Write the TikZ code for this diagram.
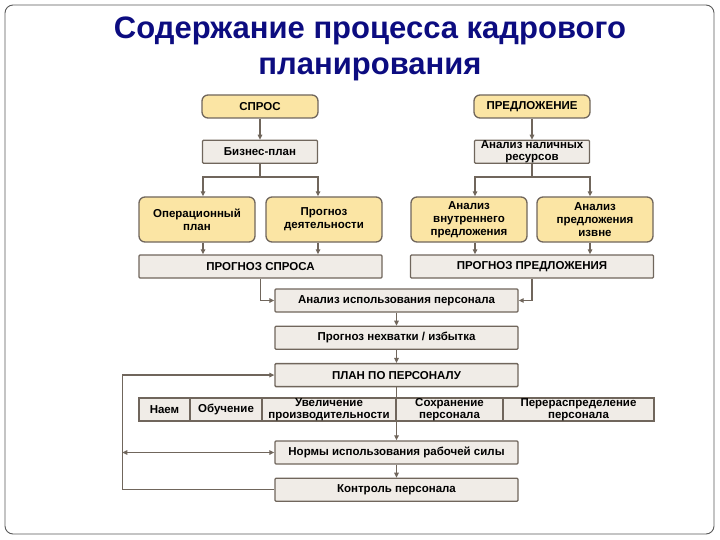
\documentclass[tikz,border=0pt]{standalone}
\usepackage{fontspec}
\setmainfont{Liberation Sans}
\usetikzlibrary{arrows.meta, positioning, calc}
\definecolor{titleblue}{RGB}{12,12,128}
\definecolor{planyellow}{RGB}{251,229,164}
\definecolor{plangray}{RGB}{240,236,231}
\definecolor{planline}{RGB}{112,102,92}
\tikzset{
    yellowbox/.style={rectangle, draw=planline, fill=planyellow, line width=1.3pt, rounded corners=6pt, minimum width=116pt, minimum height=23pt, inner sep=0pt, align=center, font=\bfseries\fontsize{11.5}{13}\selectfont},
    tallbox/.style={yellowbox, minimum height=45pt},
    graybox/.style={rectangle, draw=planline, fill=plangray, line width=1.3pt, rounded corners=1pt, minimum width=115pt, minimum height=23pt, inner sep=0pt, align=center, font=\bfseries\fontsize{11.5}{11.5}\selectfont},
    widebox/.style={graybox, minimum width=243pt},
    cell/.style={graybox, rounded corners=0pt, minimum height=23pt, outer sep=0pt},
    arrow/.style={-{Triangle[length=5pt,width=4.5pt]}, line width=1.3pt, draw=planline},
    twoarrow/.style={{Triangle[length=5pt,width=4.5pt]}-{Triangle[length=5pt,width=4.5pt]}, line width=1.3pt, draw=planline},
}
\begin{document}
\begin{tikzpicture}[x=1pt, y=-1pt]
    \useasboundingbox (0,0) rectangle (720,540);
    \draw[black!65, line width=0.9pt, rounded corners=8pt] (5,5) rectangle (714,534);

    % Title
    \node[text=titleblue, font=\bfseries\fontsize{31}{36}\selectfont, align=center] (title) at (370,49) {Содержание процесса кадрового\\планирования};

    % Demand side
    \node[yellowbox] (demand) at (260,106.5) {СПРОС};
    \node[graybox, below=21pt of demand] (biz) {Бизнес-план};
    \node[tallbox] (oper) at (197,219.5) {Операционный\\план};
    \node[tallbox] (activ) at (324,219.5) {Прогноз\\деятельности};
    \node[widebox] (demfc) at (260.5,266.5) {ПРОГНОЗ СПРОСА};

    % Supply side
    \node[yellowbox] (supply) at (532,106.5) {ПРЕДЛОЖЕНИЕ};
    \node[graybox, below=21pt of supply] (avail) {Анализ наличных\\ресурсов};
    \node[tallbox] (inner) at (469,219.5) {Анализ\\внутреннего\\предложения};
    \node[tallbox] (outer) at (595,219.5) {Анализ\\предложения\\извне};
    \node[widebox] (supfc) at (532,266.5) {ПРОГНОЗ ПРЕДЛОЖЕНИЯ};

    % Central chain
    \node[widebox] (use) at (396.5,300.5) {Анализ использования персонала};
    \node[widebox, below=13pt of use] (short) {Прогноз нехватки / избытка};
    \node[widebox, below=13pt of short] (plan) {ПЛАН ПО ПЕРСОНАЛУ};
    \node[widebox] (norm) at (396.5,452.5) {Нормы использования рабочей силы};
    \node[widebox, below=13pt of norm] (ctrl) {Контроль персонала};

    % Measures row
    \node[cell, minimum width=51pt, anchor=west] (hire) at (139,409.5) {Наем};
    \node[cell, minimum width=72pt, right=0pt of hire] (train) {Обучение};
    \node[cell, minimum width=134pt, right=0pt of train] (prod) {Увеличение\\производительности};
    \node[cell, minimum width=107pt, right=0pt of prod] (keep) {Сохранение\\персонала};
    \node[cell, minimum width=151pt, right=0pt of keep] (move) {Перераспределение\\персонала};

    % Connectors
    \draw[arrow] (demand) -- (biz);
    \draw[arrow] (biz.south) -- ++(0,13) -| ([xshift=6pt]oper.north);
    \draw[arrow] (biz.south) -- ++(0,13) -| ([xshift=-6pt]activ.north);
    \draw[arrow] ([xshift=6pt]oper.south) -- ([xshift=6pt]oper.south |- demfc.north);
    \draw[arrow] ([xshift=-6pt]activ.south) -- ([xshift=-6pt]activ.south |- demfc.north);

    \draw[arrow] (supply) -- (avail);
    \draw[arrow] (avail.south) -- ++(0,13) -| ([xshift=6pt]inner.north);
    \draw[arrow] (avail.south) -- ++(0,13) -| ([xshift=-5pt]outer.north);
    \draw[arrow] ([xshift=6pt]inner.south) -- ([xshift=6pt]inner.south |- supfc.north);
    \draw[arrow] ([xshift=-5pt]outer.south) -- ([xshift=-5pt]outer.south |- supfc.north);

    \draw[arrow] (demfc.south) |- (use.west);
    \draw[arrow] (supfc.south) |- (use.east);
    \draw[arrow] (use) -- (short);
    \draw[arrow] (short) -- (plan);
    \draw[arrow] (plan) -- (norm);
    \draw[arrow] (norm) -- (ctrl);

    % Feedback
    \coordinate (back) at ([xshift=-152pt]ctrl.west);
    \draw[arrow] (ctrl.west) -- (back) |- (plan.west);
    \draw[twoarrow] (back |- norm.west) -- (norm.west);
\end{tikzpicture}
\end{document}
